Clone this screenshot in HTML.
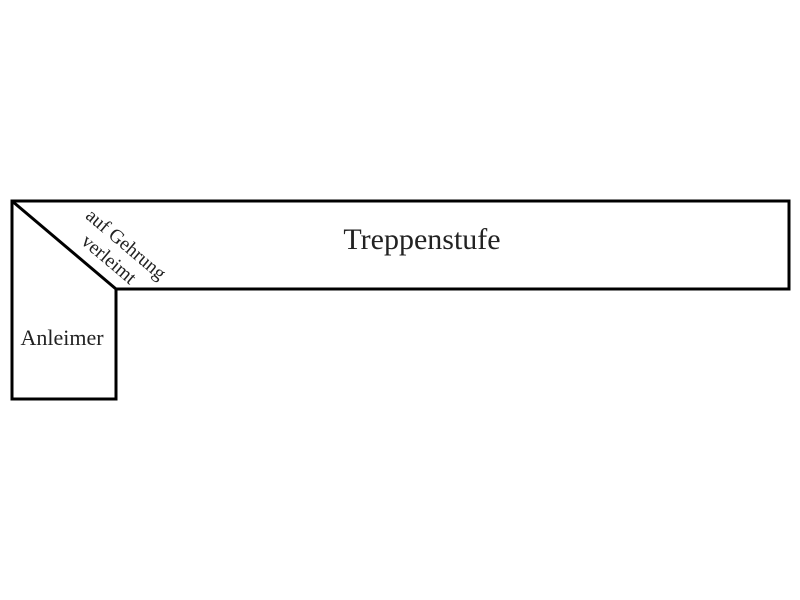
<!DOCTYPE html>
<html><head><meta charset="utf-8"><style>
html,body{margin:0;padding:0;background:#fff;width:800px;height:600px;overflow:hidden}
</style></head><body>
<svg width="800" height="600" xmlns="http://www.w3.org/2000/svg" font-family="Liberation Serif, serif" fill="#222">
<g fill="none" stroke="#000" stroke-width="3" stroke-linejoin="miter">
<path d="M12 201 H789 V289 H116 V399 H12 Z"/>
<path d="M12 201 L116 289"/>
</g>
<text x="422" y="249" font-size="30" text-anchor="middle">Treppenstufe</text>
<text x="62" y="345" font-size="22" text-anchor="middle">Anleimer</text>
<text transform="translate(122,249) rotate(40.2)" font-size="19.5" text-anchor="middle">auf Gehrung</text>
<text transform="translate(105,264) rotate(40.2)" font-size="19.5" text-anchor="middle">verleimt</text>
</svg>
</body></html>
